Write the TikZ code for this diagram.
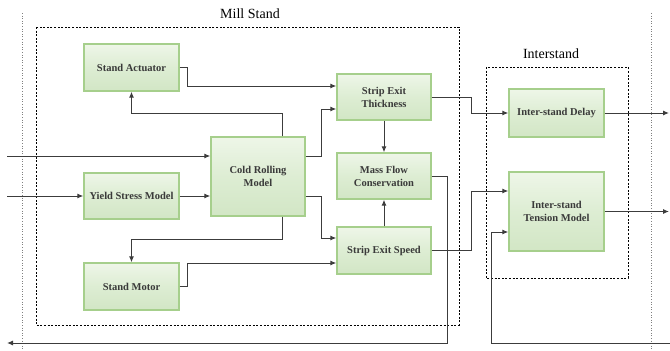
\documentclass[tikz,border=0pt]{standalone}
\usepackage{fontspec}
\setmainfont{Liberation Serif}
\usetikzlibrary{arrows.meta}
\definecolor{boxtop}{HTML}{EEF6E8}
\definecolor{boxmid}{HTML}{DDEDD3}
\definecolor{boxbot}{HTML}{D2E6C5}
\definecolor{boxline}{HTML}{A6CF8C}
\definecolor{txt}{HTML}{3A3A3A}
\definecolor{wire}{HTML}{3C3C3C}
\tikzset{
  blk/.style={draw=boxline, line width=1.4pt, top color=boxtop, bottom color=boxbot, middle color=boxmid,
    text=txt, font=\fontsize{10.5}{13}\selectfont\bfseries, align=center, inner sep=0pt},
  arr/.style={draw=wire, line width=1pt, -{Latex[length=6pt,width=5pt]}},
  grp/.style={draw=black, line width=0.8pt, dash pattern=on 2pt off 1.6pt},
  sep/.style={draw=gray, line width=0.8pt, dash pattern=on 0.8pt off 1.8pt},
  grplabel/.style={font=\fontsize{14}{16}\selectfont, text=black},
}
\begin{document}
\begin{tikzpicture}[x=1pt,y=-1pt]
\useasboundingbox (0,0) rectangle (670,351);
% separators
\draw[sep] (22,13) -- (22,351);
\draw[sep] (651,13) -- (651,351);
% groups
\draw[grp] (36,27) rectangle (459,325);
\draw[grp] (486,67) rectangle (628,278);
\node[grplabel] (lmill) at (250,14) {Mill Stand};
\node[grplabel] (linter) at (551,54) {Interstand};
% blocks
\node[blk, minimum width=95pt, minimum height=47pt] (act) at (131.5,67.5) {Stand Actuator};
\node[blk, minimum width=95pt, minimum height=46pt] (ysm) at (131.5,196) {Yield Stress Model};
\node[blk, minimum width=95pt, minimum height=47pt] (mot) at (131.5,286.5) {Stand Motor};
\node[blk, minimum width=94pt, minimum height=79pt] (crm) at (258,176.5) {Cold Rolling\\Model};
\node[blk, minimum width=94pt, minimum height=46pt] (ste) at (384,97) {Strip Exit\\Thickness};
\node[blk, minimum width=94pt, minimum height=46pt] (mfc) at (384,176) {Mass Flow\\Conservation};
\node[blk, minimum width=94pt, minimum height=47pt] (ses) at (384,250.5) {Strip Exit Speed};
\node[blk, minimum width=95pt, minimum height=48pt] (isd) at (556.5,113) {Inter-stand Delay};
\node[blk, minimum width=95pt, minimum height=79pt] (itm) at (556.5,211.5) {Inter-stand\\Tension Model};
% free ends
\coordinate (in1) at (7,156);
\coordinate (in2) at (7,196);
\coordinate (out1) at (7,343);
\coordinate (out2) at (669,113);
\coordinate (out3) at (669,211.5);
\coordinate (fb) at (670,343);
% connectors
\draw[arr] (in1) -- (in1 -| crm.west);
\draw[arr] (in2) -- (ysm.west);
\draw[arr] (ysm.east) -- (ysm.east -| crm.west);
\draw[arr] ([xshift=24pt]crm.north) -- ++(0,-23) -| (act.south);
\draw[arr] (act.east) -- ++(8,0) |- ([yshift=11pt]ste.west);
\draw[arr] ([yshift=20.5pt]crm.east) -- ++(16,0) |- ([yshift=-12pt]ste.west);
\draw[arr] ([xshift=24pt]crm.south) -- ++(0,23) -| (mot.north);
\draw[arr] ([yshift=-19.5pt]crm.east) -- ++(16,0) |- ([yshift=12.5pt]ses.west);
\draw[arr] (mot.east) -- ++(8,0) |- ([yshift=-12.5pt]ses.west);
\draw[arr] (ste.south) -- (mfc.north);
\draw[arr] (ses.north) -- (mfc.south);
\draw[arr] (mfc.east) -- ++(16,0) |- (out1);
\draw[arr] (ste.east) -- ++(40,0) |- (isd.west);
\draw[arr] (ses.east) -- ++(40,0) |- ([yshift=20.5pt]itm.west);
\draw[arr] (isd.east) -- (out2);
\draw[arr] (itm.east) -- (out3);
\draw[arr] (fb) -| ([xshift=-17pt,yshift=-20.5pt]itm.west) -- ([yshift=-20.5pt]itm.west);
\end{tikzpicture}
\end{document}
